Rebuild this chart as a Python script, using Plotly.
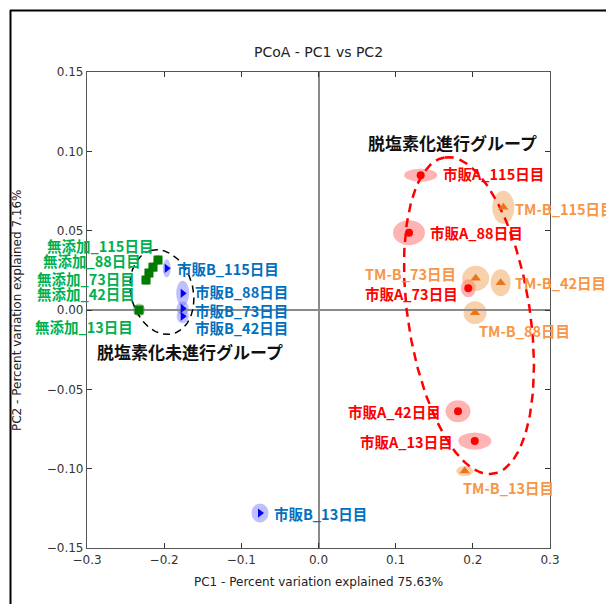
import numpy as np
import plotly.graph_objects as go

# ---------------- data ----------------
days = ["115", "88", "73", "42", "13"]

# 無添加 (green squares)
g_x = [-0.208, -0.2145, -0.2197, -0.2235, -0.2326]
g_y = [0.0315, 0.027, 0.0233, 0.0189, 0.0]
g_sx = [0.0058, 0.0058, 0.0058, 0.0058, 0.0078]
g_sy = [0.0032, 0.0032, 0.0032, 0.0032, 0.0041]

# 市販B (blue right triangles)
b_x = [-0.1967, -0.176, -0.176, -0.176, -0.0758]
b_y = [0.0263, 0.0105, 0.001, -0.004, -0.128]
b_sx = [0.0052, 0.0084, 0.0078, 0.0078, 0.011]
b_sy = [0.0057, 0.0079, 0.0044, 0.0044, 0.006]

# 市販A (red circles)
a_x = [0.1324, 0.1173, 0.1941, 0.1808, 0.2025]
a_y = [0.085, 0.0487, 0.0137, -0.0638, -0.0826]
a_sx = [0.0214, 0.0207, 0.0097, 0.0162, 0.0214]
a_sy = [0.0041, 0.0079, 0.0057, 0.0069, 0.0054]

# TM-B (orange triangles)
t_x = [0.2395, 0.2028, 0.2037, 0.2361, 0.1895]
t_y = [0.0647, -0.0017, 0.02, 0.0172, -0.1015]
t_sx = [0.0143, 0.0149, 0.0175, 0.013, 0.011]
t_sy = [0.0104, 0.0072, 0.0079, 0.0085, 0.0032]

x_ticks = [-0.3, -0.2, -0.1, 0.0, 0.1, 0.2, 0.3]
y_ticks = [-0.15, -0.10, -0.05, 0.0, 0.05, 0.10, 0.15]

# ---------------- layout geometry ----------------
OFF = 8                      # page body margin
W, H = 614 - OFF, 604 - OFF
L, T = 87 - OFF, 72 - OFF
PW, PH = 463, 476
R, B = W - L - PW, H - T - PH
XR, YR = (-0.3, 0.3), (-0.15, 0.15)
SX = PW / (XR[1] - XR[0])
SY = PH / (YR[1] - YR[0])


def px2paper_x(px):          # screen pixel -> paper
    return (px - OFF - L) / PW


def px2paper_y(py):
    return (T + PH - (py - OFF)) / PH


def ellipse(cx, cy, a_px, b_px, tilt_deg):
    t = np.linspace(0, 2 * np.pi, 200)
    th = np.deg2rad(tilt_deg)
    ux, uy = -np.sin(th), np.cos(th)
    vx, vy = np.cos(th), np.sin(th)
    dx = a_px * np.cos(t) * ux + b_px * np.sin(t) * vx
    dy = a_px * np.cos(t) * uy + b_px * np.sin(t) * vy
    return cx + dx / SX, cy + dy / SY


fig = go.Figure()
shapes = []


def halos(xs, ys, sxs, sys_, color):
    for x, y, sx, sy in zip(xs, ys, sxs, sys_):
        shapes.append(dict(type="circle", xref="x", yref="y", layer="below",
                           x0=x - sx, x1=x + sx, y0=y - sy, y1=y + sy,
                           fillcolor=color, line=dict(width=0)))


halos(g_x, g_y, g_sx, g_sy, "rgba(0,128,0,0.35)")
halos(b_x, b_y, b_sx, b_sy, "rgba(90,90,255,0.38)")
halos(a_x, a_y, a_sx, a_sy, "rgba(255,40,40,0.35)")
halos(t_x, t_y, t_sx, t_sy, "rgba(238,150,70,0.45)")

# dashed group ellipses
ex, ey = ellipse(-0.2028, 0.0113, 43, 31, 15)
fig.add_trace(go.Scatter(x=ex, y=ey, mode="lines", hoverinfo="skip",
                         line=dict(color="black", width=1.5, dash="7px,5px")))
ex, ey = ellipse(0.195, -0.0035, 160, 61, 8.7)
fig.add_trace(go.Scatter(x=ex, y=ey, mode="lines", hoverinfo="skip",
                         line=dict(color="#ff0000", width=2.5, dash="9px,6px")))

fig.add_trace(go.Scatter(x=g_x, y=g_y, mode="markers",
                         marker=dict(symbol="square", size=9, color="#007a00")))
fig.add_trace(go.Scatter(x=b_x, y=b_y, mode="markers",
                         marker=dict(symbol="triangle-right", size=8, color="#0000ff")))
fig.add_trace(go.Scatter(x=a_x, y=a_y, mode="markers",
                         marker=dict(symbol="circle", size=8, color="#ff0000")))
fig.add_trace(go.Scatter(x=t_x, y=t_y, mode="markers",
                         marker=dict(symbol="triangle-up", size=9, color="#e8741c")))

LABEL_FONT = "Noto Sans CJK JP, sans-serif"
annotations = []


def labels(prefix, xs, ys, color, anchors, shifts):
    for d, x, y, anc, (dx, dy) in zip(days, xs, ys, anchors, shifts):
        annotations.append(dict(x=x, y=y, xref="x", yref="y",
                                text=f"<b>{prefix}_{d}日目</b>", showarrow=False,
                                xanchor=anc, yanchor="middle", xshift=dx, yshift=dy,
                                font=dict(family=LABEL_FONT, size=14.5, color=color)))


labels("無添加", g_x, g_y, "#00b050", ["right"] * 5,
       [(-3, 15), (-10, 7), (-12, -5), (-9, -13), (-4, -16)])
labels("市販B", b_x, b_y, "#0070c0", ["left"] * 5,
       [(8, 0), (10, 2), (10, -2), (10, -11), (12, 0)])
labels("市販A", a_x, a_y, "#ff0000", ["left", "left", "right", "right", "right"],
       [(20, 2), (19, 0), (-8, -5), (-15, 0), (-20, 0)])
labels("TM-B", t_x, t_y, "#f79646", ["left", "left", "right", "left", "left"],
       [(10, -1), (2, -18), (-18, 5), (12, 0), (-4, -16)])

annotations.append(dict(x=0.173, y=0.1054, xref="x", yref="y", showarrow=False,
                        text="<b>脱塩素化進行グループ</b>", xanchor="center", yanchor="middle",
                        font=dict(family=LABEL_FONT, size=17, color="#111")))
annotations.append(dict(x=-0.1665, y=-0.0263, xref="x", yref="y", showarrow=False,
                        text="<b>脱塩素化未進行グループ</b>", xanchor="center", yanchor="middle",
                        font=dict(family=LABEL_FONT, size=17, color="#111")))

AX_FONT = "DejaVu Sans, sans-serif"
annotations.append(dict(x=0.5, y=px2paper_y(52), xref="paper", yref="paper", showarrow=False,
                        text="PCoA - PC1 vs PC2", xanchor="center", yanchor="middle",
                        font=dict(family=AX_FONT, size=14, color="#222")))
annotations.append(dict(x=0.5, y=px2paper_y(582), xref="paper", yref="paper", showarrow=False,
                        text="PC1 - Percent variation explained 75.63%", xanchor="center",
                        yanchor="middle", font=dict(family=AX_FONT, size=12, color="#222")))
annotations.append(dict(x=px2paper_x(17), y=0.5, xref="paper", yref="paper", showarrow=False,
                        text="PC2 - Percent variation explained 7.16%", textangle=-90,
                        xanchor="center", yanchor="middle",
                        font=dict(family=AX_FONT, size=12, color="#222")))

# outer frame
shapes.append(dict(type="line", xref="paper", yref="paper", layer="above",
                   x0=px2paper_x(10.5), x1=px2paper_x(10.5), y0=px2paper_y(10), y1=px2paper_y(604),
                   line=dict(color="black", width=2)))
shapes.append(dict(type="line", xref="paper", yref="paper", layer="above",
                   x0=px2paper_x(10), x1=px2paper_x(614), y0=px2paper_y(10.5), y1=px2paper_y(10.5),
                   line=dict(color="black", width=2)))
shapes.append(dict(type="line", xref="paper", yref="paper", layer="above",
                   x0=px2paper_x(609), x1=px2paper_x(609), y0=px2paper_y(11), y1=px2paper_y(604),
                   line=dict(color="#c8c8c8", width=1.5)))

fig.update_layout(
    width=W, height=H, margin=dict(l=L, r=R, t=T, b=B),
    paper_bgcolor="white", plot_bgcolor="white", showlegend=False,
    shapes=shapes, annotations=annotations,
    xaxis=dict(range=list(XR), tickvals=x_ticks, tickformat=".1f",
               showgrid=False, zeroline=True, zerolinecolor="#8a8a8a", zerolinewidth=1.5,
               showline=True, linecolor="#555", linewidth=1.2, mirror="allticks",
               ticks="inside", ticklen=5, tickcolor="#333",
               tickfont=dict(family=AX_FONT, size=12, color="#333")),
    yaxis=dict(range=list(YR), tickvals=y_ticks, tickformat=".2f",
               showgrid=False, zeroline=True, zerolinecolor="#8a8a8a", zerolinewidth=1.5,
               showline=True, linecolor="#555", linewidth=1.2, mirror="allticks",
               ticks="inside", ticklen=5, tickcolor="#333",
               tickfont=dict(family=AX_FONT, size=12, color="#333")),
)

fig.write_html("out.html")
